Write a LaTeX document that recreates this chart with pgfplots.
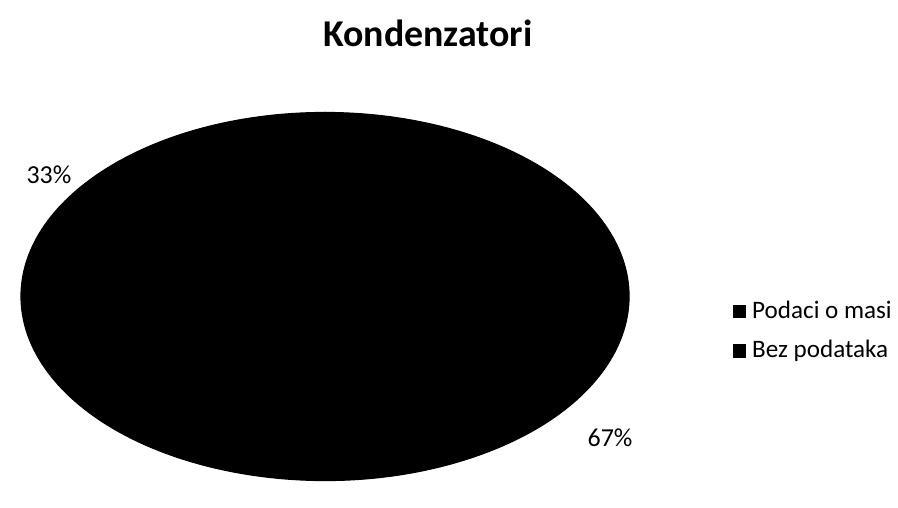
\documentclass[border=0pt]{standalone}
\usepackage{fontspec}
\setmainfont{Carlito}
\usepackage{pgfplots}
\usepackage{pgfplotstable}
\pgfplotsset{compat=1.18}

% shares of the two slices (percent)
\pgfplotstableread{
label share
{Podaci o masi} 33
{Bez podataka} 67
}\piedata

\begin{document}
\begin{tikzpicture}
\pgfplotstablegetelem{0}{share}\of\piedata
\pgfmathsetmacro{\angA}{90+3.6*\pgfplotsretval}
\pgfplotstablegetelem{1}{share}\of\piedata
\pgfmathsetmacro{\angB}{\angA+3.6*\pgfplotsretval}
\begin{axis}[
  x=0.5bp, y=0.5bp,
  xmin=0, xmax=898, ymin=0, ymax=481,
  hide axis, clip=false,
  legend style={at={(axis cs:733,150)}, anchor=west, draw=none, fill=none,
    font=\fontsize{12.6}{14}\selectfont, row sep=5.5bp, cells={anchor=west},
    inner sep=0pt, nodes={inner xsep=3bp}},
  legend image code/.code={\fill[black] (0bp,-3.2bp) rectangle (6bp,3.2bp);},
]
\path (axis cs:0,0) rectangle (axis cs:898,481);
\addlegendimage{black}
\addlegendentry{\pgfplotstablegetelem{0}{label}\of\piedata\pgfplotsretval}
\addlegendimage{black}
\addlegendentry{\pgfplotstablegetelem{1}{label}\of\piedata\pgfplotsretval}

\filldraw[black, line width=0.6pt] (axis cs:325,184.5) -- ++(90:152bp and 92bp)
  arc[start angle=90, end angle=\angA, x radius=152bp, y radius=92bp] -- cycle;
\filldraw[black, line width=0.6pt] (axis cs:325,184.5) -- ++(\angA:152bp and 92bp)
  arc[start angle=\angA, end angle=\angB, x radius=152bp, y radius=92bp] -- cycle;

\node[font=\fontsize{13}{15}\selectfont] at (axis cs:49,306) {33\%};
\node[font=\fontsize{13}{15}\selectfont] at (axis cs:610,43) {67\%};
\node[font=\fontsize{19}{22}\selectfont\bfseries] at (axis cs:428,448) {Kondenzatori};
\end{axis}
\end{tikzpicture}
\end{document}
